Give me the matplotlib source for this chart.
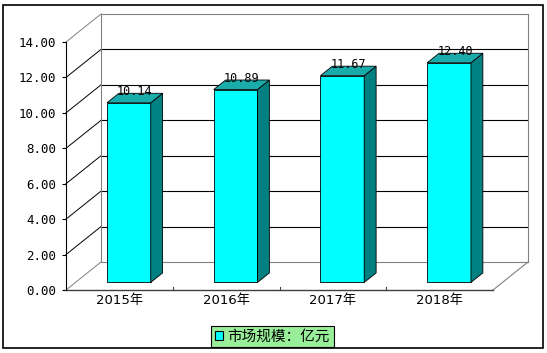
import matplotlib
matplotlib.use("Agg")
import matplotlib.pyplot as plt
from matplotlib.patches import Polygon, Rectangle, Patch

categories = ['2015年', '2016年', '2017年', '2018年']
values = [10.14, 10.89, 11.67, 12.40]
yticks = [0, 2, 4, 6, 8, 10, 12, 14]
ytick_labels = ['0.00', '2.00', '4.00', '6.00', '8.00', '10.00', '12.00', '14.00']
legend_label = '市场规模：亿元'

W, H = 547, 353
fig = plt.figure(figsize=(W / 100, H / 100), dpi=100)

# front plane in pixels
fx0, fx1, fy0, fy1 = 66, 493, 290, 42
ax = fig.add_axes([fx0 / W, 1 - fy0 / H, (fx1 - fx0) / W, (fy0 - fy1) / H])
ax.set_xlim(-0.5, len(categories) - 0.5)
ax.set_ylim(0, 14)
for s in ax.spines.values():
    s.set_visible(False)

pxx = (fx1 - fx0) / len(categories)
pxy = (fy0 - fy1) / 14.0
DXD = 35 / pxx
DYD = 28 / pxy


def P(x, y, d):
    return (x + d * DXD, y + d * DYD)


xl_lim, xr_lim = -0.5, len(categories) - 0.5
grey = '#808080'
# back wall gridlines
for t in yticks:
    a = P(xl_lim, t, 1)
    b = P(xr_lim, t, 1)
    col = 'black' if 0 < t < 14 else grey
    ax.plot([a[0], b[0]], [a[1], b[1]], color=col, lw=0.8, clip_on=False, zorder=1)
    # left wall diagonals
    c = P(xl_lim, t, 0)
    ax.plot([c[0], a[0]], [c[1], a[1]], color=('black' if 0 < t < 14 else grey), lw=0.7,
            clip_on=False, zorder=1)
# back wall vertical edges
for xx in (xl_lim, xr_lim):
    a = P(xx, 0, 1)
    b = P(xx, 14, 1)
    ax.plot([a[0], b[0]], [a[1], b[1]], color=grey, lw=0.8, clip_on=False, zorder=1)
# floor right diagonal
a = P(xr_lim, 0, 0)
b = P(xr_lim, 0, 1)
ax.plot([a[0], b[0]], [a[1], b[1]], color=grey, lw=0.8, clip_on=False, zorder=1)
# front axes
ax.plot([xl_lim, xr_lim], [0, 0], color='#404040', lw=1.0, clip_on=False, zorder=2)
ax.plot([xl_lim, xl_lim], [0, 14], color='black', lw=0.8, clip_on=False, zorder=2)

# bars
d0, d1 = 0.27, 0.61
bw = 0.41
for i, v in enumerate(values):
    xl, xr = i - bw / 2, i + bw / 2
    front = [P(xl, 0, d0), P(xr, 0, d0), P(xr, v, d0), P(xl, v, d0)]
    side = [P(xr, 0, d0), P(xr, 0, d1), P(xr, v, d1), P(xr, v, d0)]
    top = [P(xl, v, d0), P(xr, v, d0), P(xr, v, d1), P(xl, v, d1)]
    for poly, fc in ((front, '#00FFFF'), (side, '#008080'), (top, '#1AABAB')):
        ax.add_patch(Polygon(poly, closed=True, facecolor=fc, edgecolor='black',
                             lw=0.6, clip_on=False, zorder=3))
    lx, ly = P(i, v, (d0 + d1) / 2)
    ax.text(lx, ly, f'{v:.2f}', ha='center', va='bottom', fontsize=8.5,
            family='DejaVu Sans Mono', color='black', zorder=4)

# ticks
ax.set_yticks(yticks)
ax.set_yticklabels(ytick_labels, family='DejaVu Sans Mono', fontsize=9)
ax.tick_params(axis='y', length=3, width=0.8, direction='out', pad=4)
ax.set_xticks(range(len(categories)))
ax.set_xticklabels(categories, family=['DejaVu Sans', 'Noto Sans CJK SC'], fontsize=9.5)
ax.tick_params(axis='x', length=0, pad=3)
for b in [0.5, 1.5, 2.5]:
    ax.plot([b, b], [0, 0.15], color='#404040', lw=0.8, clip_on=False, zorder=2)

# legend
leg = fig.legend(handles=[Patch(facecolor='#00FFFF', edgecolor='black', lw=0.8)],
                 labels=[legend_label], loc='center', bbox_to_anchor=(272.5 / W, 1 - 336.5 / H),
                 prop={'family': ['Noto Sans CJK SC', 'DejaVu Sans'], 'size': 10.5},
                 frameon=True, fancybox=False, framealpha=1, borderpad=0.25,
                 handlelength=0.55, handleheight=0.55, handletextpad=0.3, borderaxespad=0)
leg.get_frame().set_facecolor('#99EE99')
leg.get_frame().set_edgecolor('black')
leg.get_frame().set_linewidth(0.8)

# outer border
fig.patches.append(Rectangle((3 / W, 1 - 348 / H), 540 / W, 343 / H, transform=fig.transFigure,
                             fill=False, edgecolor='black', lw=1.2))

fig.savefig('out.png', dpi=100)
